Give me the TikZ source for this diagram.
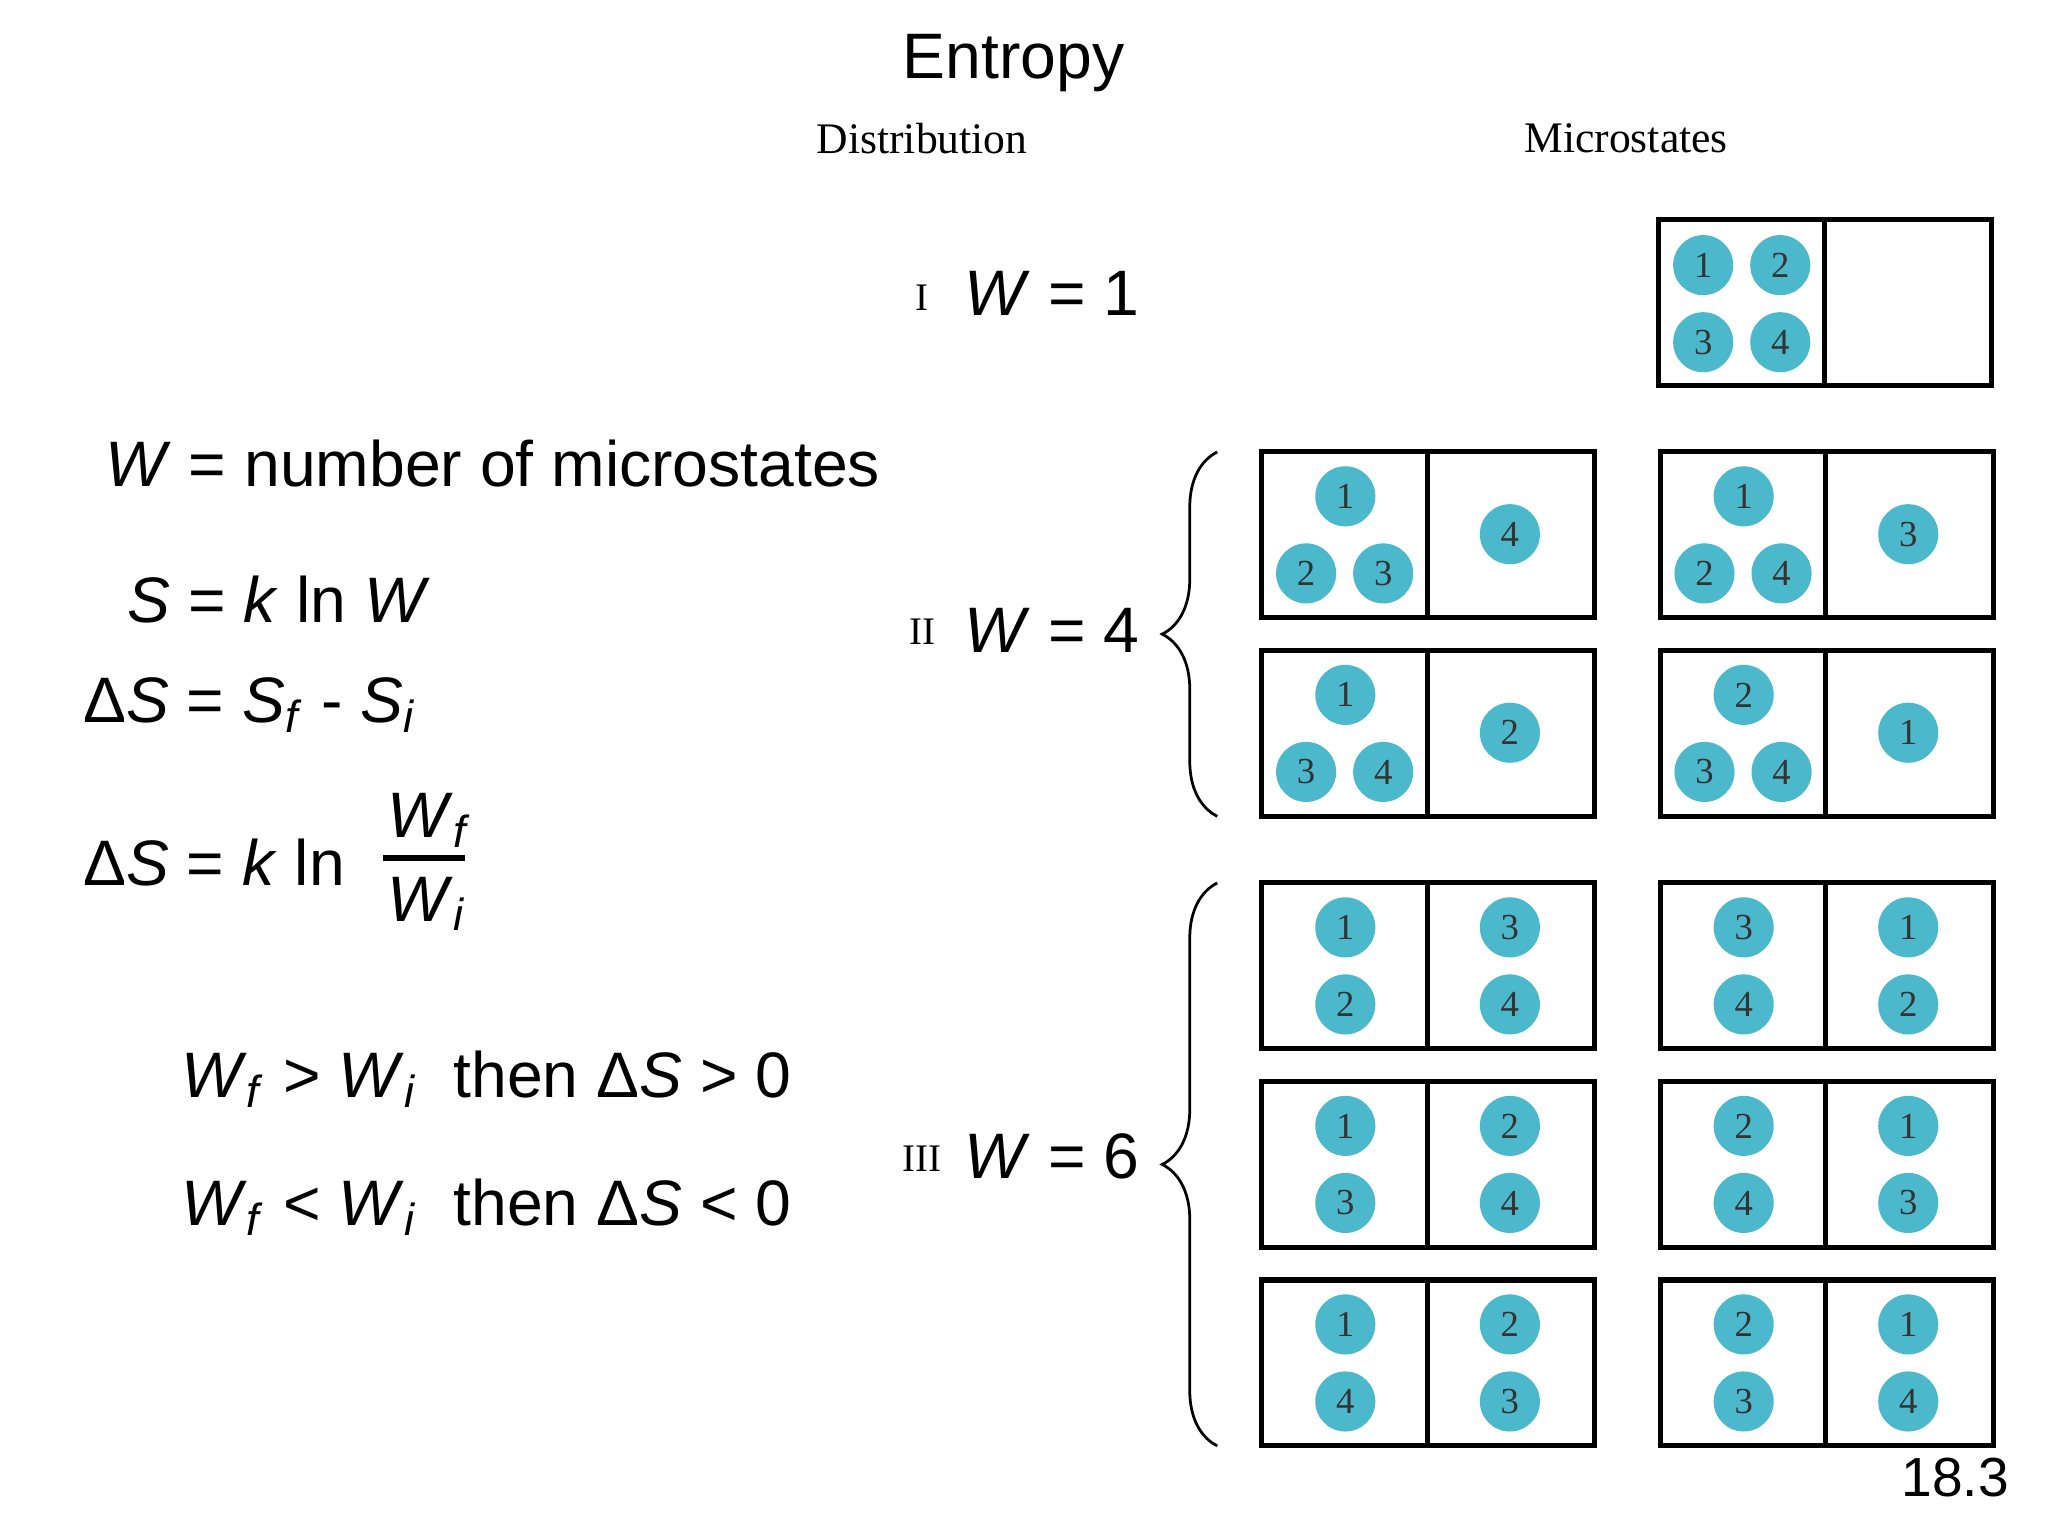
\documentclass[tikz,border=0pt]{standalone}
\usepackage{fontspec}
\setmainfont{Liberation Sans}
\newfontfamily\serf{Liberation Serif}
\usetikzlibrary{decorations.pathreplacing}
\definecolor{ballc}{HTML}{4CB8CC}
\tikzset{
  ball/.style={circle,fill=ballc,minimum size=4.6mm,inner sep=0pt,font=\serf\fontsize{8}{8}\selectfont,text=black!80},
  frame/.style={draw,line width=1.1pt},
  big/.style={font=\fontsize{14}{16}\selectfont,anchor=west,inner sep=0pt},
  hdr/.style={font=\serf\fontsize{9.5}{10}\selectfont,inner sep=0pt},
  roman/.style={font=\serf\fontsize{8.5}{9}\selectfont,inner sep=0pt},
  brc/.style={decorate,decoration={brace,amplitude=12pt},line width=0.6pt}
}
\newcommand\stbox[2]{\draw[frame] (#1,#2) rectangle ++(255,127); \draw[frame] (#1+127,#2) -- (#1+127,#2+127);}
\newcommand\bl[3]{\node[ball] at (#1,#2) {#3};}
\newcommand\tri[6]{% box x,y ; top, bl, br, right
 \stbox{#1}{#2}
 \bl{#1+64}{#2+34}{#3}\bl{#1+34}{#2+93}{#4}\bl{#1+93}{#2+93}{#5}\bl{#1+190}{#2+63}{#6}}
\newcommand\two[6]{\stbox{#1}{#2}
 \bl{#1+64}{#2+34}{#3}\bl{#1+64}{#2+93}{#4}\bl{#1+190}{#2+34}{#5}\bl{#1+190}{#2+93}{#6}}
\begin{document}
\begin{tikzpicture}[x=0.1mm,y=-0.1mm]
\useasboundingbox (0,0) rectangle (1568,1176);
\node[font=\fontsize{14}{16}\selectfont] (title) at (776,48) {Entropy};
\node[hdr] (dist) at (706,106) {Distribution};
\node[hdr] (micro) at (1245,106) {Microstates};
% I
\node[roman] (r1) at (706,228) {I};
\node[big] (w1) at (738,225) {\textit{W} = 1};
\stbox{1270}{168}
\bl{1304}{203}{1}\bl{1363}{203}{2}\bl{1304}{262}{3}\bl{1363}{262}{4}
% II
\node[roman] (r2) at (706,484) {II};
\node[big] (w4) at (738,483) {\textit{W} = 4};
\tri{966}{346}{1}{2}{3}{4}
\tri{1271}{346}{1}{2}{4}{3}
\tri{966}{498}{1}{3}{4}{2}
\tri{1271}{498}{2}{3}{4}{1}
\draw[brc] (932,625) -- (932,346);
% III
\node[roman] (r3) at (706,887) {III};
\node[big] (w6) at (738,885) {\textit{W} = 6};
\two{966}{676}{1}{2}{3}{4}
\two{1271}{676}{3}{4}{1}{2}
\two{966}{828}{1}{3}{2}{4}
\two{1271}{828}{2}{4}{1}{3}
\two{966}{980}{1}{4}{2}{3}
\two{1271}{980}{2}{3}{1}{4}
\draw[brc] (932,1107) -- (932,676);
% left formulas
\node[big] (l1) at (80,355) {\textit{W} = number of microstates};
\node[big] (l2) at (97,459) {\textit{S} = \textit{k} ln \textit{W}};
\node[big] (l3) at (63,540) {Δ\textit{S} = \textit{S}\textsubscript{\textit{f}} - \textit{S}\textsubscript{\textit{i}}};
\node[big] (l4) at (63,660) {Δ\textit{S} = \textit{k} ln};
\node[big] (wf) at (296,628) {\textit{W}\textsubscript{\textit{f}}};
\node[big] (wi) at (296,692) {\textit{W}\textsubscript{\textit{i}}};
\draw[line width=1.2pt] (293,657) -- (356,657);
\node[big] (l5) at (138,826) {\textit{W}\textsubscript{\textit{f}} > \textit{W}\textsubscript{\textit{i}}\ \ then Δ\textit{S} > 0};
\node[big] (l6) at (138,924) {\textit{W}\textsubscript{\textit{f}} < \textit{W}\textsubscript{\textit{i}}\ \ then Δ\textit{S} < 0};
\node[font=\fontsize{12}{14}\selectfont] (pg) at (1497,1131) {18.3};
\end{tikzpicture}
\end{document}
